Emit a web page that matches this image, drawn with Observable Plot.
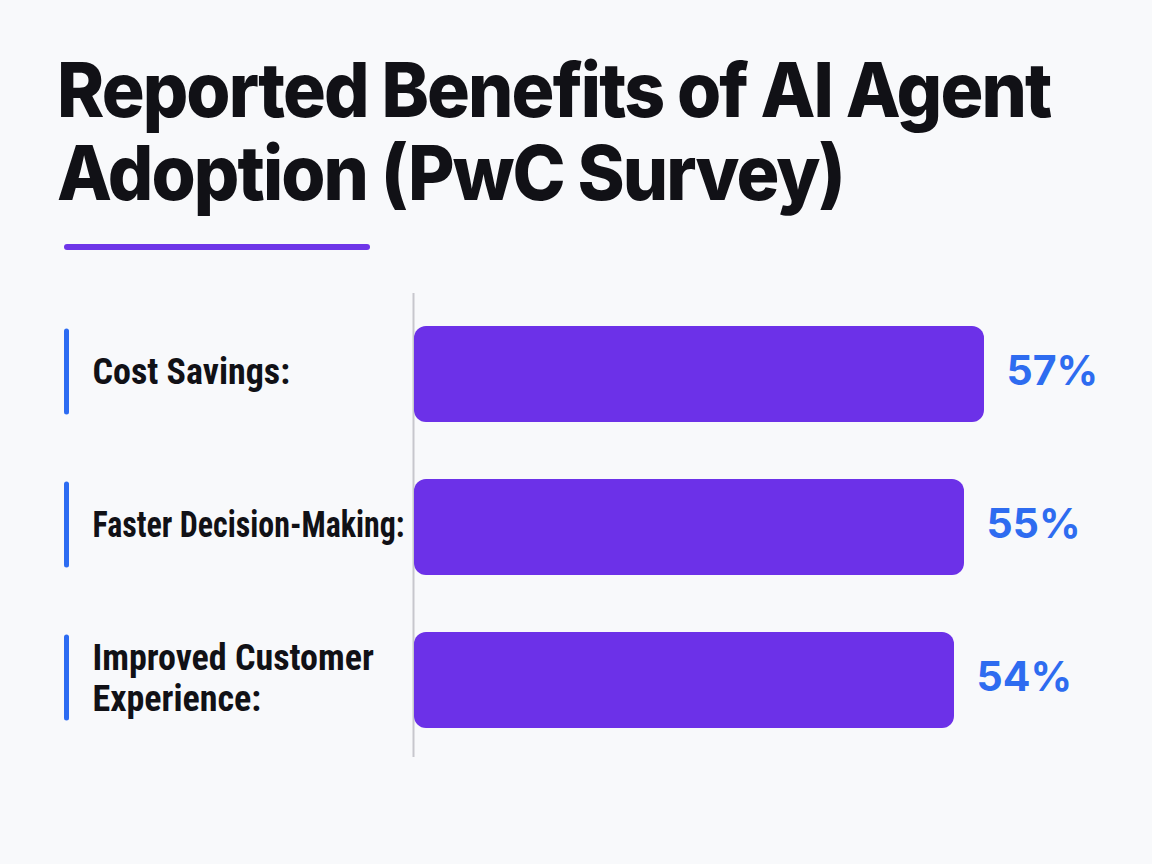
<!DOCTYPE html>
<html>
<head>
<meta charset="utf-8">
<script src="https://cdn.jsdelivr.net/npm/d3@7"></script>
<script src="https://cdn.jsdelivr.net/npm/@observablehq/plot@0.6"></script>
<style>
  html, body { margin: 0; padding: 0; background: #f8f9fb; }
  #page { position: relative; width: 1152px; height: 864px; overflow: hidden; }
  #header { position: relative; height: 290px; }
  #title {
    position: absolute; left: 57px; top: 48px; margin: 0;
    font-family: Inter, "Noto Sans", sans-serif; font-weight: 800;
    font-size: 76px; line-height: 83px; letter-spacing: -2px;
    color: #111116; white-space: nowrap;
    transform: scaleX(0.94); transform-origin: left top;
  }
  #rule {
    position: absolute; left: 64px; top: 244px; width: 306px; height: 6px;
    border-radius: 3px; background: #6e36e8;
  }
  #chart svg { display: block; }
</style>
</head>
<body>
<div id="page">
  <div id="header">
    <h1 id="title">Reported Benefits of AI Agent<br>Adoption (PwC Survey)</h1>
    <div id="rule"></div>
  </div>
  <div id="chart"></div>
</div>
<script>
// Survey benefits and the share of respondents reporting each
const categories = ["Cost Savings", "Faster Decision-Making", "Improved Customer Experience"];
const tickLabels = ["Cost Savings:", "Faster Decision-Making:", "Improved Customer\nExperience:"];
const values = [57, 55, 54];
const valueLabels = ["57%", "55%", "54%"];

const rows = categories.map((c, i) => ({
  category: c,
  label: tickLabels[i],
  value: values[i],
  text: valueLabels[i]
}));

const labelFont = "'Liberation Sans Narrow', 'Roboto Condensed', Roboto, sans-serif";
const zero = () => 0;

const chart = Plot.plot({
  width: 1152,
  height: 574,
  marginLeft: 414,
  marginRight: 0,
  marginTop: 35,
  marginBottom: 135,
  x: { domain: [0, 73.8], axis: null },
  y: { domain: categories, axis: null, paddingInner: 0.37, paddingOuter: 0 },
  style: { background: "transparent", fontFamily: "Inter, sans-serif" },
  marks: [
    // baseline rule along the left edge of the bars
    Plot.ruleX([0], { dx: -1, insetTop: -32, insetBottom: -28, stroke: "#c7c7cd", strokeWidth: 2 }),
    // bars
    Plot.barX(rows, { x: "value", y: "category", fill: "#6c31e8", rx: 12 }),
    // value labels
    Plot.text(rows, {
      x: "value", y: "category", text: "text", dx: 22, dy: -3, textAnchor: "start",
      fill: "#2e6cf0", fontSize: 41, fontWeight: 700, fontFamily: "Inter, sans-serif",
      letterSpacing: -1.5
    }),
    // accent marks beside the category labels
    Plot.tickX(rows, {
      x: zero, y: "category", dx: -348, insetTop: 5, insetBottom: 10,
      stroke: "#2d6cf2", strokeWidth: 5, strokeLinecap: "round"
    }),
    // category labels
    Plot.text(rows, {
      y: "category", text: "label", frameAnchor: "left", dx: -322, dy: -3, textAnchor: "start",
      fill: "#111116", fontSize: 36, fontWeight: 700, fontFamily: labelFont, lineHeight: 1.12
    })
  ]
});

document.getElementById("chart").append(chart);

// keep category labels inside the left margin, clear of the baseline rule
const maxLabelWidth = 312;
d3.select(chart).selectAll("text").each(function () {
  const box = this.getBBox();
  if (box.x > 400) return;
  const parts = this.querySelectorAll("tspan");
  const targets = parts.length ? Array.from(parts) : [this];
  for (const t of targets) {
    const w = t.getComputedTextLength();
    if (w > maxLabelWidth) {
      t.setAttribute("textLength", maxLabelWidth);
      t.setAttribute("lengthAdjust", "spacingAndGlyphs");
    }
  }
});
</script>
</body>
</html>
